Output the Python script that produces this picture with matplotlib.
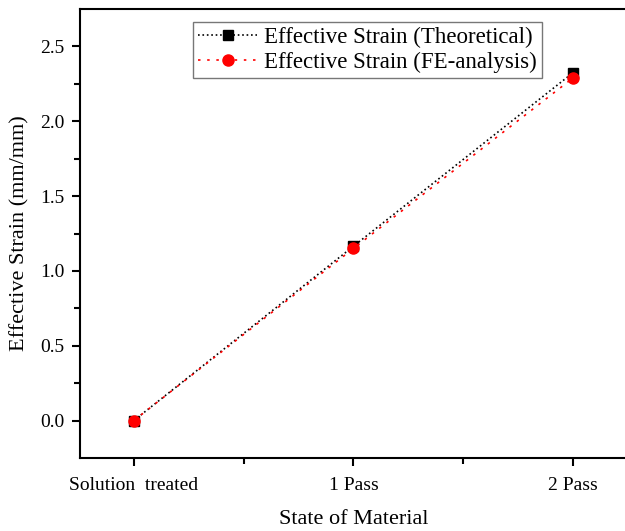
import matplotlib.pyplot as plt
import numpy as np

plt.rcParams['font.family'] = ['Liberation Serif', 'DejaVu Serif']

states = ['Solution  treated', '1 Pass', '2 Pass']
strain_theoretical = [0.0, 1.165, 2.325]
strain_fe = [0.0, 1.15, 2.29]

fig = plt.figure(figsize=(6.25, 5.31), dpi=100)
ax = fig.add_axes([0.128, 0.1375, 0.875, 0.8455])

x = np.arange(len(states))
ax.plot(x, strain_theoretical, color='black', linestyle=':', linewidth=1.2,
        marker='s', markersize=7, label='Effective Strain (Theoretical)')
ax.plot(x, strain_fe, color='red', linestyle=(0, (1.5, 4)), linewidth=1.2,
        marker='o', markersize=8, label='Effective Strain (FE-analysis)')

ax.set_xlim(-0.245, 2.245)
ax.set_ylim(-0.25, 2.75)
ax.set_xticks(x)
ax.set_xticklabels(states)
ax.set_xticks([0.5, 1.5], minor=True)
ax.set_yticks(np.arange(0, 2.51, 0.5))
ax.set_yticklabels(['{:.1f}'.format(v) for v in np.arange(0, 2.51, 0.5)])
ax.set_yticks(np.arange(0.25, 2.6, 0.5), minor=True)

for side in ['left', 'bottom', 'top']:
    ax.spines[side].set_linewidth(1.5)
ax.spines['right'].set_visible(False)

ax.tick_params(which='both', direction='out', width=1.5, labelsize=14)
ax.tick_params(which='major', length=6, pad=5)
ax.tick_params(axis='x', which='major', pad=8)
ax.tick_params(which='minor', length=4)
ax.tick_params(top=False, right=False)

ax.set_xlabel('State of Material', fontsize=16, labelpad=11)
ax.set_ylabel('Effective Strain (mm/mm)', fontsize=16, labelpad=8)

leg = ax.legend(loc='upper left', bbox_to_anchor=(0.309, 0.9586),
                bbox_transform=fig.transFigure, fontsize=16.5,
                frameon=True, fancybox=False, edgecolor='#555555',
                handlelength=2.6, handletextpad=0.3, borderpad=0.2,
                labelspacing=0.2, borderaxespad=0.0)
leg.get_frame().set_linewidth(1.0)

fig.savefig('out.png', dpi=100)
